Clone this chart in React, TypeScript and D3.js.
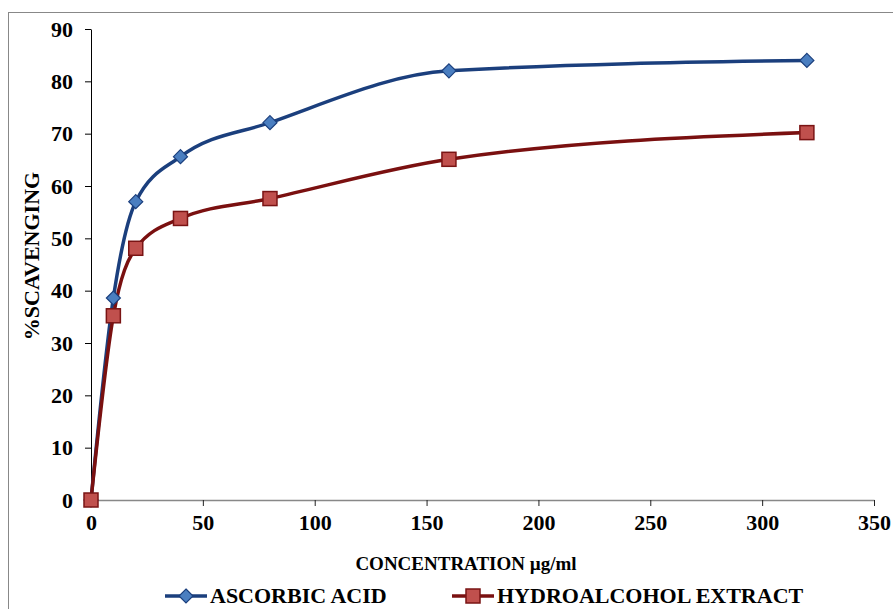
import { useEffect, useRef } from "react";
import * as d3 from "d3";

const concentrations = [0, 10, 20, 40, 80, 160, 320];
const ascorbicAcid = [0, 38.6, 57, 65.6, 72.1, 82, 84];
const hydroalcohol = [0, 35.2, 48.1, 53.8, 57.6, 65.1, 70.2];
const xTicks = [0, 50, 100, 150, 200, 250, 300, 350];
const yTicks = [0, 10, 20, 30, 40, 50, 60, 70, 80, 90];

const FONT = "'Liberation Serif', 'Times New Roman', serif";

const App = () => {
  const ref = useRef<SVGSVGElement>(null);

  useEffect(() => {
    const svg = d3.select(ref.current);
    svg.selectAll("*").remove();

    const x = d3.scaleLinear().domain([0, 350]).range([91, 874]);
    const y = d3.scaleLinear().domain([0, 90]).range([500, 29]);

    // outer chart border
    svg
      .append("rect")
      .attr("x", 8.5)
      .attr("y", 12.5)
      .attr("width", 900)
      .attr("height", 620)
      .attr("fill", "white")
      .attr("stroke", "#888")
      .attr("stroke-width", 1);

    // x axis
    svg
      .append("g")
      .attr("transform", "translate(0,500)")
      .call(d3.axisBottom(x).tickValues(xTicks).tickSize(6).tickSizeOuter(0).tickPadding(8))
      .call((g) => g.select(".domain").attr("stroke", "#888").attr("stroke-width", 1.5))
      .call((g) => g.selectAll(".tick line").attr("stroke", "#222"))
      .call((g) =>
        g
          .selectAll(".tick text")
          .attr("font-family", FONT)
          .attr("font-weight", "bold")
          .attr("font-size", 22)
          .attr("fill", "#000")
      );

    // y axis
    svg
      .append("g")
      .attr("transform", "translate(91,0)")
      .call(d3.axisLeft(y).tickValues(yTicks).tickSize(6).tickSizeOuter(0).tickPadding(12))
      .call((g) => g.select(".domain").attr("stroke", "#000").attr("stroke-width", 1))
      .call((g) => g.selectAll(".tick line").attr("stroke", "#000"))
      .call((g) =>
        g
          .selectAll(".tick text")
          .attr("font-family", FONT)
          .attr("font-weight", "bold")
          .attr("font-size", 22)
          .attr("fill", "#000")
      );

    const series = [
      { name: "ASCORBIC ACID", values: ascorbicAcid, line: "#1B3F7D", fill: "#4A7EC0", edge: "#1B3F7D", shape: "diamond" },
      { name: "HYDROALCOHOL EXTRACT", values: hydroalcohol, line: "#7A1010", fill: "#C0504D", edge: "#7A1414", shape: "square" },
    ];

    const line = d3
      .line<number>()
      .x((_, i) => x(concentrations[i]))
      .y((d) => y(d))
      .curve(d3.curveMonotoneX);

    const drawMarker = (g: d3.Selection<SVGGElement, unknown, null, undefined>, cx: number, cy: number, s: typeof series[0]) => {
      if (s.shape === "diamond") {
        g.append("path")
          .attr("d", `M${cx},${cy - 7}L${cx + 7},${cy}L${cx},${cy + 7}L${cx - 7},${cy}Z`)
          .attr("fill", s.fill)
          .attr("stroke", s.edge)
          .attr("stroke-width", 1.2);
      } else {
        g.append("rect")
          .attr("x", cx - 7)
          .attr("y", cy - 7)
          .attr("width", 14)
          .attr("height", 14)
          .attr("fill", s.fill)
          .attr("stroke", s.edge)
          .attr("stroke-width", 1.5);
      }
    };

    series.forEach((s) => {
      svg
        .append("path")
        .datum(s.values)
        .attr("d", line)
        .attr("fill", "none")
        .attr("stroke", s.line)
        .attr("stroke-width", 3.5);
    });
    series.forEach((s) => {
      const g = svg.append("g");
      s.values.forEach((v, i) => drawMarker(g, x(concentrations[i]), y(v), s));
    });

    // axis titles
    svg
      .append("text")
      .attr("x", 466)
      .attr("y", 570)
      .attr("text-anchor", "middle")
      .attr("font-family", FONT)
      .attr("font-weight", "bold")
      .attr("font-size", 19)
      .text("CONCENTRATION µg/ml");

    svg
      .append("text")
      .attr("transform", "translate(39,256) rotate(-90)")
      .attr("text-anchor", "middle")
      .attr("font-family", FONT)
      .attr("font-weight", "bold")
      .attr("font-size", 22)
      .text("%SCAVENGING");

    // legend
    const legendX = [165, 452];
    series.forEach((s, i) => {
      const g = svg.append("g");
      const lx = legendX[i];
      g.append("line")
        .attr("x1", lx)
        .attr("x2", lx + 42)
        .attr("y1", 596)
        .attr("y2", 596)
        .attr("stroke", s.line)
        .attr("stroke-width", 3.5);
      drawMarker(g, lx + 21, 596, s);
      g.append("text")
        .attr("x", lx + 45)
        .attr("y", 603)
        .attr("font-family", FONT)
        .attr("font-weight", "bold")
        .attr("font-size", 22)
        .text(s.name);
    });
  }, []);

  return (
    <div style={{ position: "absolute", left: 0, top: 0 }}>
      <svg ref={ref} width={893} height={609} style={{ display: "block" }} />
    </div>
  );
};

export default App;
